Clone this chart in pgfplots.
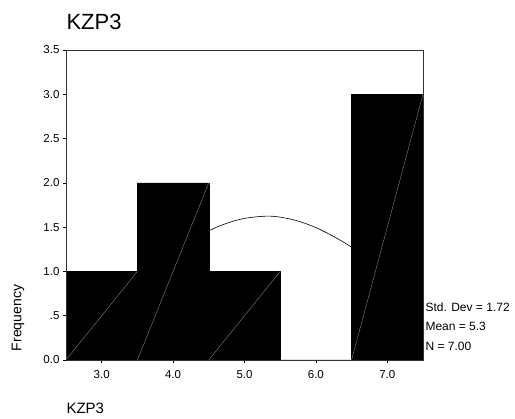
\documentclass[border=0pt]{standalone}
\usepackage{pgfplots}
\pgfplotsset{compat=1.18}
\usepackage{fontspec}
\setmainfont{Liberation Sans}

\begin{document}
\begin{tikzpicture}[x=1pt,y=1pt]
\begin{axis}[
    at={(66pt,59pt)}, anchor=south west,
    scale only axis, width=357pt, height=310pt,
    xmin=2.5, xmax=7.5, ymin=0, ymax=3.5,
    xtick={3,4,5,6,7}, xticklabels={3.0,4.0,5.0,6.0,7.0},
    ytick={0,0.5,1,1.5,2,2.5,3,3.5},
    yticklabels={0.0,.5,1.0,1.5,2.0,2.5,3.0,3.5},
    xtick pos=bottom, ytick pos=left,
    tick align=outside, major tick length=3pt,
    tick style={draw=black, line width=0.6pt},
    tick label style={font=\fontsize{11.5}{13}\selectfont},
    xticklabel style={yshift=-4pt},
    axis line style={draw=black!80, line width=0.8pt},
    axis on top,
    clip=true,
]
% normal curve (mean 5.3, sd 1.72, N 7), read as points
\addplot[black, line width=0.6pt, smooth] coordinates {
  (2.5,0.432) (3.0,0.664) (3.5,0.939) (4.0,1.220) (4.5,1.457)
  (4.75,1.543) (5.0,1.599) (5.3,1.624) (5.5,1.613) (5.75,1.569)
  (6.0,1.495) (6.25,1.394) (6.5,1.273) (7.0,0.996) (7.5,0.717)
};
% histogram bars
\addplot[ybar interval, fill=black, draw=black] coordinates {
  (2.5,1) (3.5,2) (4.5,1) (5.5,0) (6.5,3) (7.5,3)
};
% faint seams across the bars
\addplot[black!45, line width=0.35pt] coordinates {(2.5,0) (3.5,1)};
\addplot[black!45, line width=0.35pt] coordinates {(3.5,0) (4.5,2)};
\addplot[black!45, line width=0.35pt] coordinates {(4.5,0) (5.5,1)};
\addplot[black!45, line width=0.35pt] coordinates {(6.5,0) (7.5,3)};
\end{axis}

\node[anchor=west, font=\fontsize{22}{26}\selectfont] at (63,397) {KZP3};
\node[anchor=west, font=\fontsize{15}{18}\selectfont] at (63,11) {KZP3};
\node[rotate=90, font=\fontsize{14}{17}\selectfont] at (18,101) {Frequency};
\node[anchor=west, font=\fontsize{12}{14}\selectfont] at (422,112) {Std. Dev = 1.72};
\node[anchor=west, font=\fontsize{12}{14}\selectfont] at (422,93) {Mean = 5.3};
\node[anchor=west, font=\fontsize{12}{14}\selectfont] at (422,73) {N = 7.00};

\pgfresetboundingbox
\path[use as bounding box] (0,0) rectangle (515,419);
\end{tikzpicture}
\end{document}
